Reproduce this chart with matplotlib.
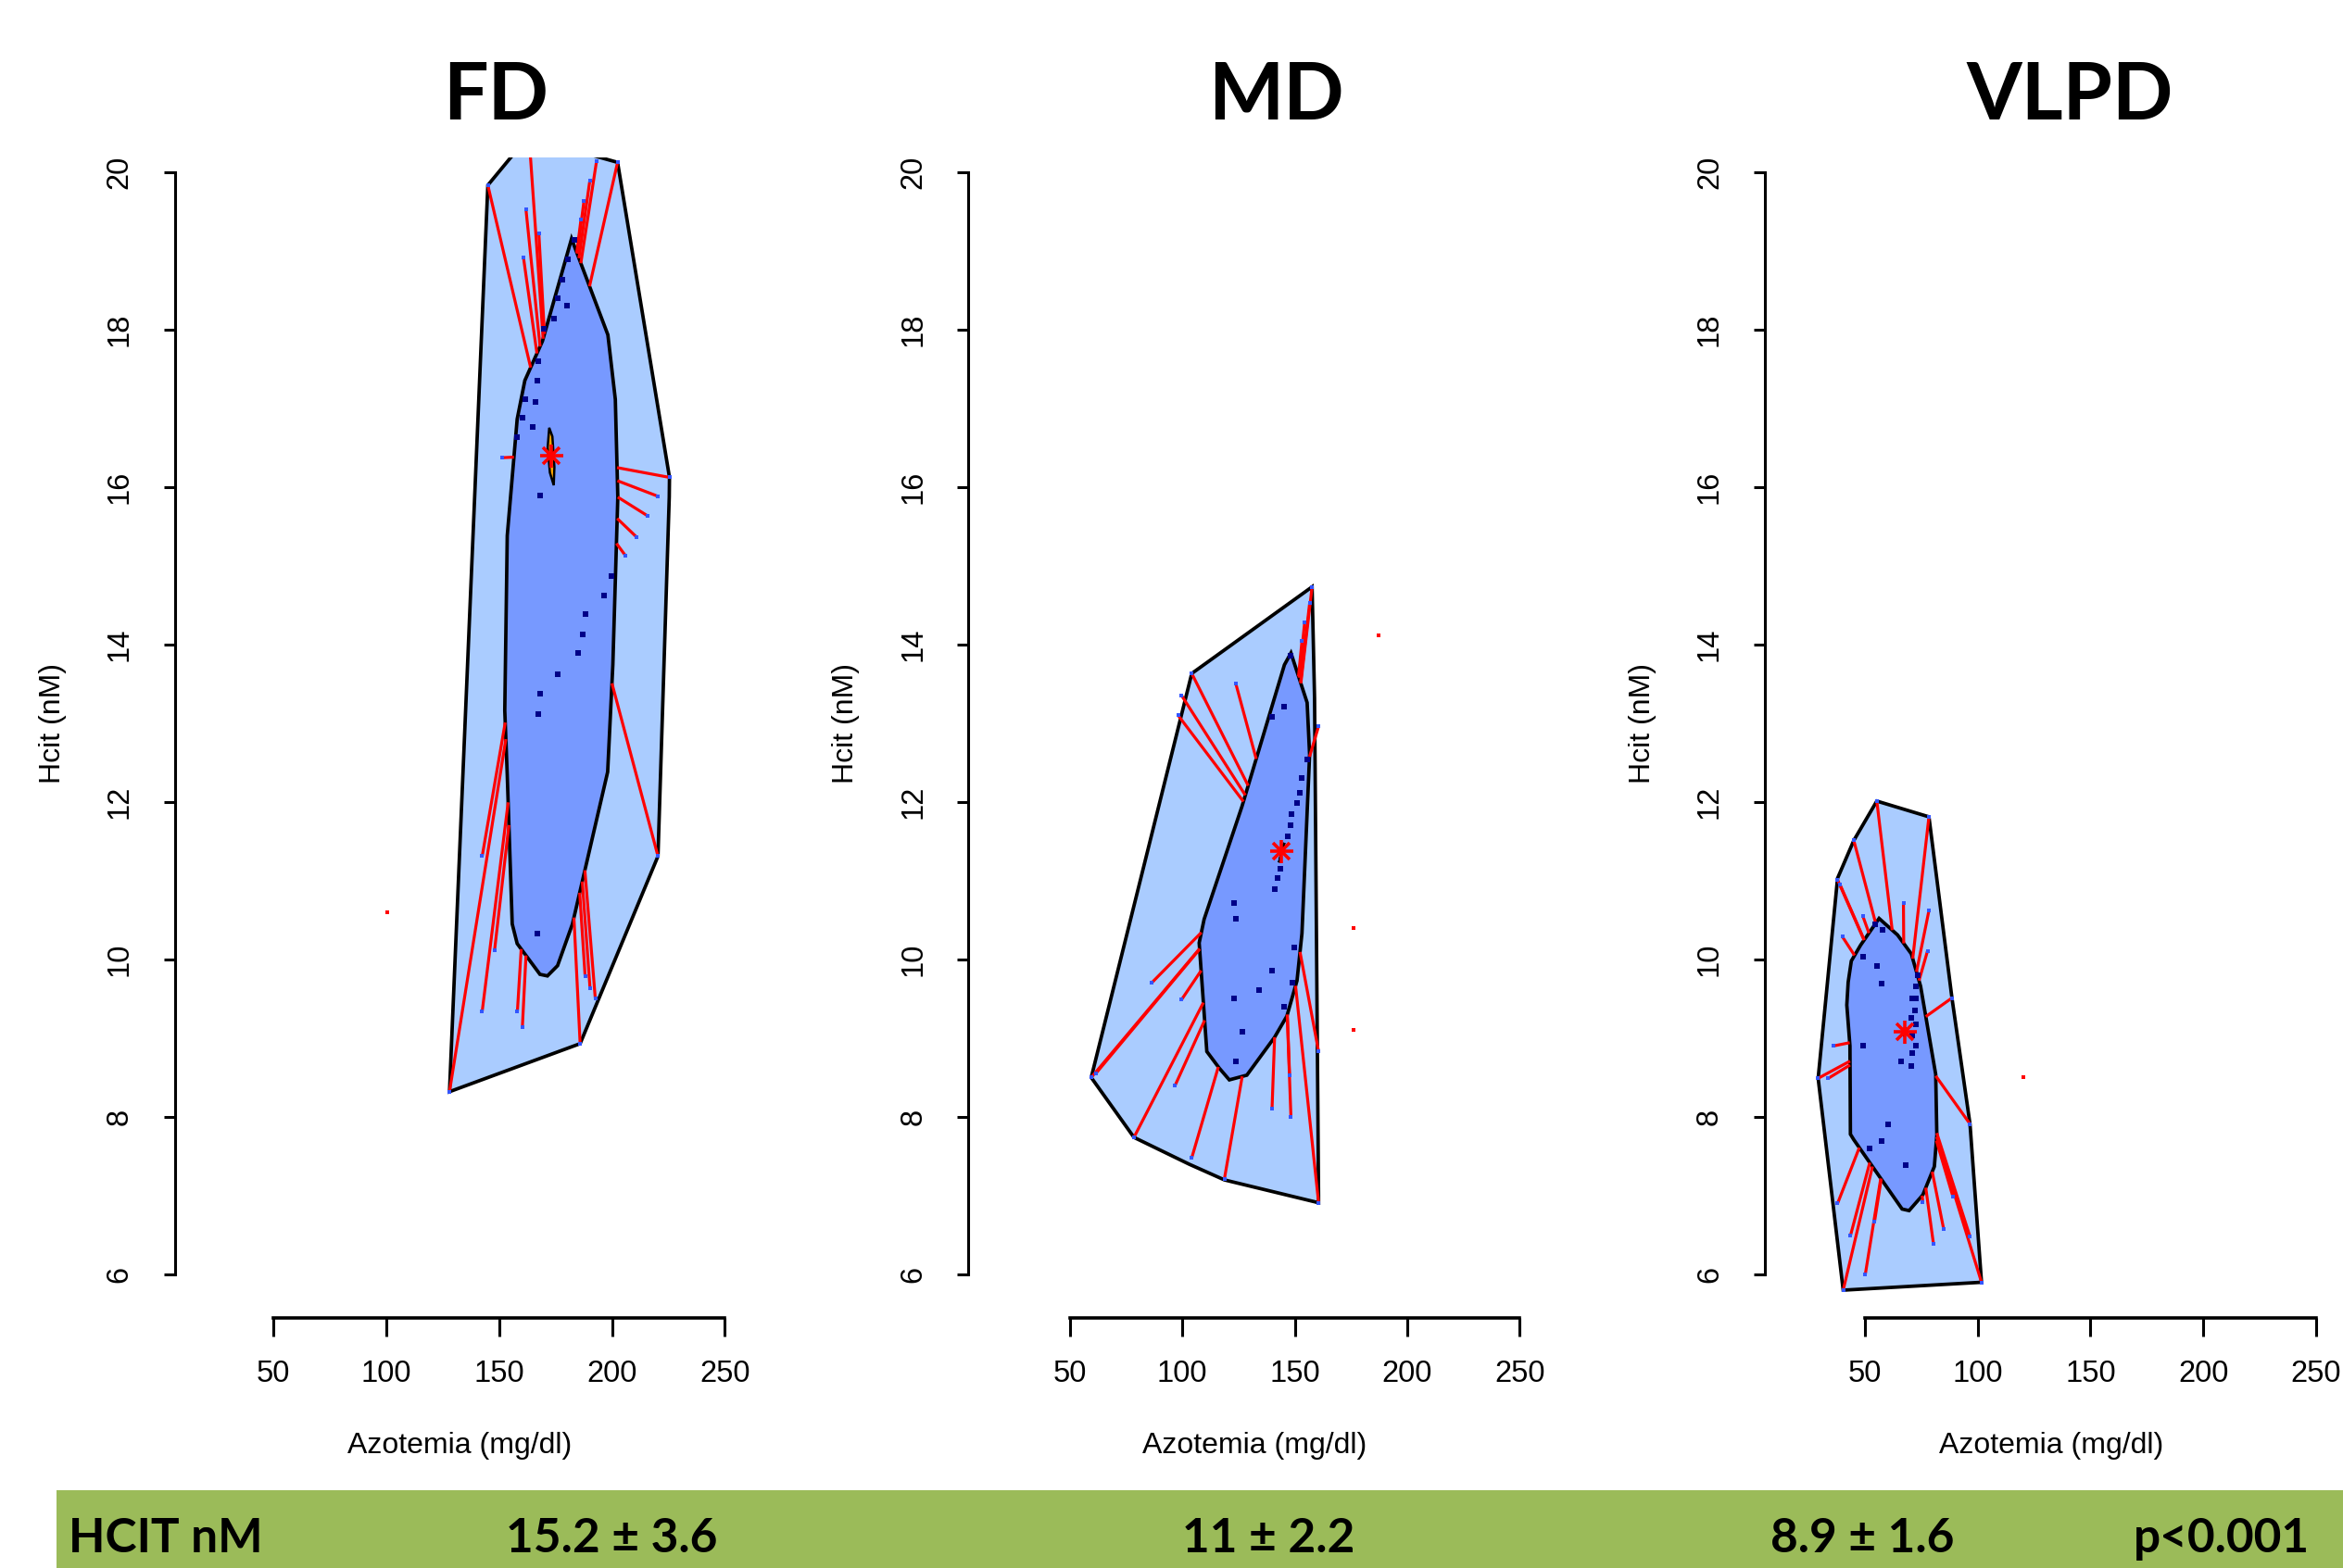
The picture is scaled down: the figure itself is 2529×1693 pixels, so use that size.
import numpy as np
import matplotlib
matplotlib.use("Agg")
import matplotlib.pyplot as plt
from matplotlib.patches import Polygon, Rectangle

# ---- data (Azotemia mg/dl, Hcit nM) ----
titles = ["FD", "MD", "VLPD"]

fd_loop = [(128.0, 8.32), (145.0, 19.83), (160.0, 20.35), (185.0, 20.26), (202.5, 20.12),
           (225.5, 16.12), (225.4, 15.87), (220.4, 11.31), (185.9, 8.93)]
fd_bag = [(182.1, 19.15), (198.2, 17.93), (201.5, 17.11), (202.6, 15.87), (200.4, 13.74),
          (198.1, 12.38), (182.5, 10.45), (175.9, 9.92), (171.4, 9.79), (168.1, 9.81),
          (158.0, 10.20), (155.8, 10.45), (153.6, 12.34), (152.5, 13.16), (153.6, 15.38),
          (158.0, 16.86), (161.4, 17.35), (169.2, 17.85)]
fd_core = [(172.2, 16.75), (173.6, 16.64), (174.5, 16.25), (174.2, 16.02), (172.5, 16.18), (171.5, 16.50)]
fd_center = (173.1, 16.40)
fd_bagpts = [(167.0, 10.33), (167.4, 13.12), (168.1, 13.37), (175.9, 13.62), (184.8, 13.89),
             (187.0, 14.13), (188.1, 14.38), (196.4, 14.62), (199.9, 14.87), (168.1, 15.89),
             (160.3, 16.88), (158.1, 16.63), (164.7, 16.76), (161.4, 17.11), (166.2, 17.08),
             (167.0, 17.35), (167.4, 17.60), (169.7, 18.01), (174.2, 18.14), (180.0, 18.30),
             (176.1, 18.39), (177.9, 18.63), (180.6, 18.89), (183.4, 19.14)]
fd_looppts = [(145.0, 19.83), (163.5, 20.35), (160.8, 18.91), (167.6, 19.22), (161.9, 19.52),
              (193.2, 20.14), (190.2, 19.89), (187.6, 19.63), (186.3, 19.40), (202.5, 20.12),
              (225.5, 16.12), (220.4, 15.88), (215.9, 15.63), (211.0, 15.36), (205.9, 15.13),
              (220.4, 11.31), (151.4, 16.37), (142.5, 11.31), (128.0, 8.32), (148.0, 10.12),
              (142.5, 9.34), (158.1, 9.34), (160.3, 9.14), (185.9, 8.93), (190.3, 9.63),
              (192.6, 9.51), (188.1, 9.79)]
fd_out = [(100.3, 10.60)]

md_loop = [(157.7, 14.73), (158.8, 13.32), (160.6, 6.91), (118.7, 7.20), (103.0, 7.40),
           (78.5, 7.74), (59.5, 8.50), (104.2, 13.63)]
md_bag = [(148.3, 13.89), (155.5, 13.26), (156.6, 12.60), (153.2, 10.33), (151.0, 9.73),
          (146.5, 9.28), (141.0, 9.01), (128.7, 8.53), (120.9, 8.47), (116.4, 8.62),
          (110.9, 8.83), (107.5, 10.21), (109.7, 10.51), (126.5, 11.94), (145.4, 13.74)]
md_core = [(145.4, 11.48), (144.6, 11.42), (143.0, 11.23), (143.6, 11.30)]
md_center = (144.0, 11.37)
md_bagpts = [(123.1, 10.72), (123.8, 10.51), (141.0, 10.89), (142.4, 11.03), (143.4, 11.15),
             (146.8, 11.56), (148.1, 11.70), (148.7, 11.85), (151.2, 11.99), (152.1, 12.12),
             (153.2, 12.30), (155.5, 12.54), (139.9, 13.08), (145.4, 13.21), (148.3, 13.85),
             (123.1, 9.50), (126.5, 9.08), (123.8, 8.71), (134.3, 9.61), (139.9, 9.86),
             (148.8, 9.71), (149.9, 10.15), (145.4, 9.40)]
md_looppts = [(104.2, 13.63), (99.7, 13.35), (98.1, 13.10), (123.8, 13.50), (157.7, 14.73),
              (156.6, 14.52), (154.4, 14.28), (153.2, 14.04), (160.6, 12.96), (86.3, 9.70),
              (99.7, 9.49), (59.5, 8.50), (61.5, 8.55), (96.8, 8.40), (78.5, 7.74),
              (104.2, 7.48), (118.7, 7.21), (139.9, 8.11), (148.3, 8.00), (147.7, 8.53),
              (160.6, 6.91), (160.6, 8.83)]
md_out = [(187.4, 14.11), (176.2, 10.40), (176.2, 9.11)]

vl_loop = [(55.3, 12.01), (78.4, 11.81), (88.6, 9.51), (96.6, 7.91), (101.7, 5.90),
           (40.4, 5.80), (29.3, 8.49), (37.9, 11.03), (45.1, 11.51)]
vl_bag = [(56.3, 10.52), (64.5, 10.31), (70.6, 10.07), (74.7, 9.66), (81.4, 8.54),
          (81.9, 7.77), (80.8, 7.37), (75.7, 7.01), (69.6, 6.81), (66.5, 6.83),
          (45.1, 7.71), (43.6, 7.78), (43.4, 8.90), (42.0, 9.42), (42.6, 9.71),
          (44.0, 9.98), (48.1, 10.18)]
vl_core = [(67.8, 9.14), (67.3, 9.10), (67.4, 9.02)]
vl_center = (67.5, 9.08)
vl_bagpts = [(49.1, 10.03), (55.3, 9.92), (57.3, 9.69), (57.9, 10.37), (54.7, 10.45),
             (49.1, 8.90), (60.4, 7.90), (57.3, 7.69), (52.2, 7.60), (68.2, 7.39),
             (66.1, 8.70), (73.3, 9.80), (72.7, 9.66), (71.0, 9.51), (72.7, 9.51),
             (72.3, 9.35), (70.6, 9.26), (72.7, 9.17), (71.0, 9.03), (72.7, 8.90),
             (71.0, 8.81), (70.6, 8.65)]
vl_looppts = [(55.3, 12.01), (78.4, 11.81), (45.1, 11.51), (37.9, 11.01), (39.0, 10.95),
              (40.0, 10.29), (49.1, 10.55), (67.1, 10.72), (78.4, 10.62), (77.8, 10.11),
              (88.6, 9.51), (35.9, 8.90), (29.3, 8.49), (33.8, 8.49), (96.6, 7.91),
              (37.9, 6.90), (43.6, 6.49), (50.2, 6.00), (54.3, 6.67), (40.4, 5.80),
              (80.4, 6.39), (84.9, 6.58), (96.6, 6.48), (101.7, 5.90), (89.0, 6.99),
              (75.7, 6.92)]
vl_out = [(120.3, 8.50)]

band_label = "HCIT nM"
band_values = ["15.2 \u00b1 3.6", "11 \u00b1 2.2", "8.9 \u00b1 1.6"]
band_p = "p<0.001"

xticks = [50, 100, 150, 200, 250]
yticks = [6, 8, 10, 12, 14, 16, 18, 20]

panels = [
    (fd_loop, fd_bag, fd_core, fd_center, fd_bagpts, fd_looppts, fd_out),
    (md_loop, md_bag, md_core, md_center, md_bagpts, md_looppts, md_out),
    (vl_loop, vl_bag, vl_core, vl_center, vl_bagpts, vl_looppts, vl_out),
]

# ---- layout in pixels of the 2529x1693 picture ----
W, H = 2529, 1693
yaxis_px = [188.7, 1045.2, 1904.8]
x50_px = [295.2, 1154.8, 2012.9]
x250_px = [782.3, 1640.3, 2500.0]
right_px = [803.3, 1662.8, 2522.6]
title_px = [535, 1377, 2234]
top_px, bottom_px = 170.0, 1422.6
y20_px, y6_px = 185.5, 1376.0

plt.rcParams["font.family"] = ["Liberation Sans", "DejaVu Sans"]
fig = plt.figure(figsize=(W / 100, H / 100), dpi=100)


def whisker_end(p, c, bag):
    # first hit of segment p->c with the bag outline
    px, py = p
    dx, dy = c[0] - px, c[1] - py
    best = None
    n = len(bag)
    for i in range(n):
        ax_, ay_ = bag[i]
        bx, by = bag[(i + 1) % n]
        ex, ey = bx - ax_, by - ay_
        den = dx * ey - dy * ex
        if abs(den) < 1e-12:
            continue
        t = ((ax_ - px) * ey - (ay_ - py) * ex) / den
        s = ((ax_ - px) * dy - (ay_ - py) * dx) / den
        if 0 <= t <= 1 and 0 <= s <= 1:
            best = t if best is None else min(best, t)
    if best is None:
        return None
    return (px + best * dx, py + best * dy)


for i, (loop, bag, core, center, bagpts, looppts, out) in enumerate(panels):
    ppu = (x250_px[i] - x50_px[i]) / 200.0
    ppy = (y6_px - y20_px) / 14.0
    ax = fig.add_axes([yaxis_px[i] / W, 1 - bottom_px / H,
                       (right_px[i] - yaxis_px[i]) / W, (bottom_px - top_px) / H])
    ax.set_xlim(50 - (x50_px[i] - yaxis_px[i]) / ppu, 50 + (right_px[i] - x50_px[i]) / ppu)
    ax.set_ylim(6 - (bottom_px - y6_px) / ppy, 20 + (y20_px - top_px) / ppy)
    ax.patch.set_alpha(0)

    ax.add_patch(Polygon(loop, closed=True, fc="#aaccff", ec="black", lw=2.7, zorder=1))
    ax.add_patch(Polygon(bag, closed=True, fc="#7799ff", ec="black", lw=2.7, zorder=2))
    for p in looppts:
        e = whisker_end(p, center, bag)
        if e is not None:
            ax.plot([p[0], e[0]], [p[1], e[1]], color="red", lw=2.3, zorder=3,
                    solid_capstyle="butt")
    ax.plot([p[0] for p in looppts], [p[1] for p in looppts], "s", color="#3355ff",
            ms=2.8, mew=0, zorder=4)
    ax.plot([p[0] for p in bagpts], [p[1] for p in bagpts], "s", color="#000088",
            ms=3.8, mew=0, zorder=4)
    ax.plot([p[0] for p in out], [p[1] for p in out], "s", color="red", ms=3.4, mew=0, zorder=4)
    ax.add_patch(Polygon(core, closed=True, fc="orange", ec="black", lw=1.8, zorder=5))
    ax.plot(center[0], center[1], marker="+", ms=18, mew=2.6, color="red", zorder=6)
    ax.plot(center[0], center[1], marker="x", ms=13, mew=2.6, color="red", zorder=6)

    for s in ["top", "right"]:
        ax.spines[s].set_visible(False)
    ax.spines["left"].set_bounds(6, 20)
    ax.spines["bottom"].set_bounds(50, 250)
    ax.spines["left"].set_linewidth(2.2)
    ax.spines["bottom"].set_linewidth(2.6)
    ax.set_xticks(xticks)
    ax.set_yticks(yticks)
    ax.tick_params(axis="y", length=8.6, width=2.2, pad=23, labelsize=23.5, labelrotation=90)
    ax.tick_params(axis="x", length=14.4, width=2.2, pad=18, labelsize=23.5)
    for lab in ax.get_yticklabels():
        lab.set_va("center")

    fig.text((yaxis_px[i] - 132) / W, 1 - 781 / H, "Hcit (nM)", rotation=90,
             ha="center", va="center", fontsize=23)
    fig.text((yaxis_px[i] + right_px[i]) / 2 / W, 1 - 1561 / H, "Azotemia (mg/dl)",
             ha="center", va="center", fontsize=23)
    fig.text(title_px[i] / W, 1 - 129 / H, titles[i], ha="center", va="baseline",
             fontsize=62, fontweight="bold", family=["Lato", "DejaVu Sans"])

# green summary band
fig.add_artist(Rectangle((61 / W, 0), (W - 61) / W, (H - 1609) / H,
                         transform=fig.transFigure, fc="#9bbb59", ec="none"))
band_y = 1 - 1676 / H
bfont = dict(fontsize=37, fontweight="bold", family=["Lato", "DejaVu Sans"], va="baseline")
fig.text(74 / W, band_y, band_label, ha="left", **bfont)
for xc, v in zip([660, 1369, 2010], band_values):
    fig.text(xc / W, band_y, v, ha="center", **bfont)
fig.text(2303 / W, band_y, band_p, ha="left", **bfont)

fig.savefig("out.png", dpi=100)
